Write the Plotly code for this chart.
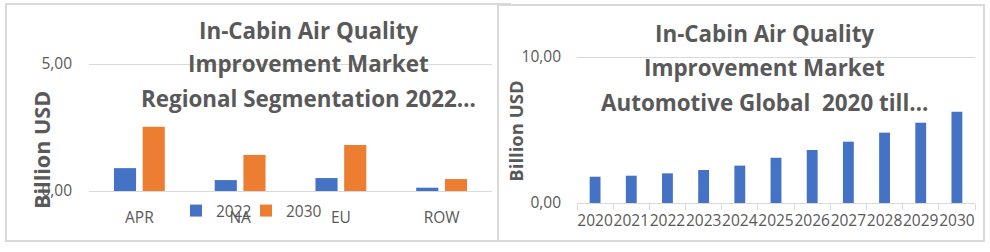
import plotly.graph_objects as go

# ---------------- data ----------------
regions = ["APR", "NA", "EU", "ROW"]
values_2022 = [0.90, 0.43, 0.51, 0.13]
values_2030 = [2.53, 1.42, 1.81, 0.47]

years = ["2020", "2021", "2022", "2023", "2024", "2025", "2026", "2027", "2028", "2029", "2030"]
global_values = [1.80, 1.87, 2.03, 2.26, 2.56, 3.10, 3.63, 4.20, 4.82, 5.50, 6.25]

title_left = ["In-Cabin Air Quality", "Improvement Market", "Regional Segmentation 2022…"]
title_right = ["In-Cabin Air Quality", "Improvement Market", "Automotive Global \u00a02020 till…"]
y_title = "Billion USD"

# ---------------- styling ----------------
W, H = 990, 252
BLUE = "#4472C4"
ORANGE = "#ED7D31"
GREY_TXT = "#595959"
GRID = "#d9d9d9"
FONT = "Open Sans"


def px(x):
    return x / W


def py(y):
    return 1 - y / H


fig = go.Figure()

fig.add_trace(go.Bar(x=regions, y=values_2022, name="2022", marker_color=BLUE,
                     xaxis="x", yaxis="y", legend="legend", legendwidth=25))
fig.add_trace(go.Bar(x=regions, y=values_2030, name="2030", marker_color=ORANGE,
                     xaxis="x", yaxis="y", legend="legend"))
fig.add_trace(go.Bar(x=years, y=global_values, name="Global", marker_color=BLUE,
                     xaxis="x2", yaxis="y2", width=0.3, showlegend=False))

tickfont = dict(family=FONT, size=15.5, color=GREY_TXT)

# left: 0 at y=191px, 5 at y=64px ; right: 0 at 203px, 10 at 57px
L_BOT, L_TOP = 191, 58
R_BOT, R_TOP = 203, 51
l_max = 5 * (L_BOT - L_TOP) / (191 - 64)
r_max = 10 * (R_BOT - R_TOP) / (203 - 57)

fig.update_layout(
    template="none",
    width=W, height=H, autosize=False,
    margin=dict(l=0, r=0, t=0, b=0, pad=0, autoexpand=False),
    paper_bgcolor="white", plot_bgcolor="rgba(0,0,0,0)",
    font=dict(family=FONT, color=GREY_TXT),
    separators=",.",
    barmode="group", bargap=0.43, bargroupgap=0.23,
    xaxis=dict(domain=[px(89), px(492)], type="category", showline=True, linecolor=GRID,
               linewidth=1, ticks="", showgrid=False, tickfont=tickfont, automargin=False,
               ticklabelstandoff=12, anchor="y"),
    yaxis=dict(domain=[py(L_BOT), py(L_TOP)], range=[0, l_max], tickvals=[0, 5], tickformat=".2f",
               showgrid=True, gridcolor=GRID, gridwidth=1, zeroline=False, automargin=False,
               showline=False, ticks="", tickfont=tickfont, ticklabelstandoff=16,
               anchor="x"),
    xaxis2=dict(domain=[px(577), px(975)], type="category", showline=True, linecolor=GRID,
                linewidth=1, ticks="outside", ticklen=6, tickcolor=GRID, tickwidth=1,
                tickson="boundaries", showgrid=False, tickfont=tickfont, tickangle=0,
                automargin=False, ticklabelstandoff=3, anchor="y2"),
    yaxis2=dict(domain=[py(R_BOT), py(R_TOP)], range=[0, r_max], tickvals=[0, 10], tickformat=".2f",
                showgrid=True, gridcolor=GRID, gridwidth=1, zeroline=False, automargin=False,
                showline=False, ticks="", tickfont=tickfont, ticklabelstandoff=15,
                anchor="x2"),
    legend=dict(orientation="h", x=px(176), y=py(211), xanchor="left", yanchor="middle",
                font=dict(family=FONT, size=15.5, color=GREY_TXT),
                bgcolor="rgba(0,0,0,0)", itemwidth=30, tracegroupgap=0),
    showlegend=True,
)

# panel borders
fig.add_shape(type="rect", xref="paper", yref="paper", x0=px(6), x1=px(510), y0=py(241), y1=py(4),
              line=dict(color=GRID, width=2), fillcolor="white", layer="below")
fig.add_shape(type="rect", xref="paper", yref="paper", x0=px(498), x1=px(984), y0=py(241), y1=py(5),
              line=dict(color=GRID, width=2), fillcolor="white", layer="below")

annotations = []
# titles
for line, yc in zip(title_left, [30, 63.5, 99]):
    annotations.append(dict(text=f"<b>{line}</b>", x=px(308), y=py(yc), xref="paper", yref="paper",
                            xanchor="center", yanchor="middle", showarrow=False,
                            font=dict(family=FONT, size=22.4, color=GREY_TXT)))
for line, yc in zip(title_right, [33.3, 67.5, 102.5]):
    annotations.append(dict(text=f"<b>{line}</b>", x=px(764), y=py(yc), xref="paper", yref="paper",
                            xanchor="center", yanchor="middle", showarrow=False,
                            font=dict(family=FONT, size=22.4, color=GREY_TXT)))
# y-axis titles
annotations.append(dict(text=f"<b>{y_title}</b>", x=px(41), y=py(150), xref="paper", yref="paper",
                        xanchor="center", yanchor="middle", textangle=-90, showarrow=False,
                        font=dict(family=FONT, size=21.6, color=GREY_TXT)))
annotations.append(dict(text=f"<b>{y_title}</b>", x=px(516), y=py(131.7), xref="paper", yref="paper",
                        xanchor="center", yanchor="middle", textangle=-90, showarrow=False,
                        font=dict(family=FONT, size=18.5, color=GREY_TXT)))
fig.update_layout(annotations=annotations)

fig.write_html("out.html",
               post_script="document.body.style.margin='0';document.body.style.overflow='hidden';")
